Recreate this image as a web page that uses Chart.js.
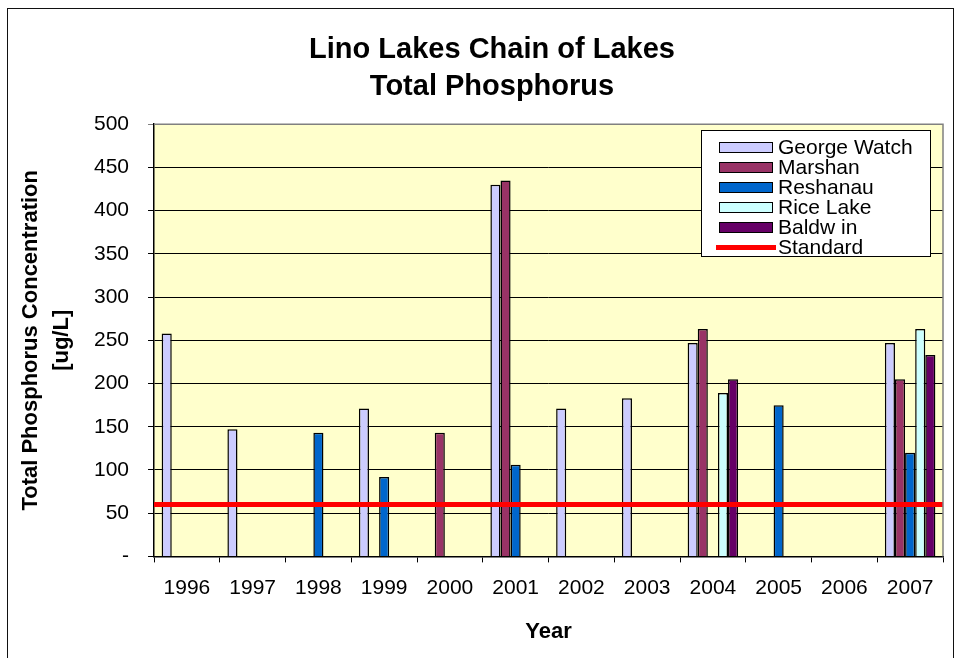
<!DOCTYPE html>
<html lang="en">

<head>
    <meta charset="UTF-8">
    <title>Lino Lakes Chain of Lakes - Total Phosphorus</title>
    <style>
        body {
            margin: 0;
            background-color: #fff;
            font-family: "Liberation Sans", Arial, sans-serif;
        }

        .wrap {
            position: relative;
            width: 960px;
            height: 658px;
            overflow: hidden;
        }

        .frame {
            position: absolute;
            left: 7px;
            top: 8px;
            width: 947px;
            height: 700px;
            border: 1.5px solid #111;
            box-sizing: border-box;
        }

        canvas {
            position: absolute;
            left: 0;
            top: 0;
        }

        #legend {
            position: absolute;
            left: 701px;
            top: 130px;
            width: 230px;
            height: 127px;
            box-sizing: border-box;
            border: 1px solid #000;
            background-color: #fff;
            padding: 6px 0 0 17px;
        }

        .item {
            height: 20px;
            line-height: 20px;
            font-size: 21px;
            color: #000;
            display: flex;
            align-items: center;
            white-space: nowrap;
        }

        .swatch {
            width: 54px;
            height: 11px;
            box-sizing: border-box;
            border: 1.5px solid #000;
            margin-right: 5px;
        }

        .swatch.line {
            width: 60px;
            height: 5px;
            border: none;
            margin-left: -3px;
            margin-right: 2px;
        }
    </style>
</head>

<body>
    <div class="wrap">
        <div class="frame"></div>
        <canvas id="tpChart" width="960" height="658"></canvas>
        <div id="legend"></div>
    </div>

    <script src="https://cdn.jsdelivr.net/npm/chart.js"></script>
    <script>
        // values (ug/L)
        const years = ['1996', '1997', '1998', '1999', '2000', '2001', '2002', '2003', '2004', '2005', '2006', '2007'];
        const georgeWatch = [258, 147, null, 171, null, 430, 171, 183, 247, null, null, 247];
        const marshan = [null, null, null, null, 143, 435, null, null, 263, null, null, 205];
        const reshanau = [null, null, 143, 92, null, 106, null, null, null, 175, null, 120];
        const riceLake = [null, null, null, null, null, null, null, null, 189, null, null, 263];
        const baldwin = [null, null, null, null, null, null, null, null, 205, null, null, 233];
        const standardLevel = 60;
        const yTicks = [0, 50, 100, 150, 200, 250, 300, 350, 400, 450, 500];

        const seriesNames = ['George Watch', 'Marshan', 'Reshanau', 'Rice Lake', 'Baldw in'];
        const seriesColors = ['#CCCCFF', '#993366', '#0066CC', '#CCFFFF', '#660066'];
        const seriesValues = [georgeWatch, marshan, reshanau, riceLake, baldwin];

        const FONT = '"Liberation Sans", Arial, sans-serif';

        // the x axis is numeric (years) so the standard line can run edge to edge
        const yearNums = years.map(Number);
        const xMin = yearNums[0] - 0.5;
        const xMax = yearNums[yearNums.length - 1] + 0.5;

        // yellow plot background with grey top/right border
        const plotArea = {
            id: 'plotArea',
            beforeDraw(chart) {
                const a = chart.chartArea;
                const c = chart.ctx;
                c.save();
                c.fillStyle = '#FFFFCC';
                c.fillRect(a.left, a.top, a.right - a.left, a.bottom - a.top);
                c.restore();
            },
            afterDatasetsDraw(chart) {
                const a = chart.chartArea;
                const c = chart.ctx;
                c.save();
                c.strokeStyle = '#808080';
                c.lineWidth = 1.5;
                c.beginPath();
                c.moveTo(a.left, a.top);
                c.lineTo(a.right, a.top);
                c.lineTo(a.right, a.bottom);
                c.stroke();
                c.restore();
            }
        };

        const datasets = seriesNames.map((name, i) => ({
            label: name,
            data: seriesValues[i],
            backgroundColor: seriesColors[i],
            borderColor: '#000',
            borderWidth: 1.5,
            categoryPercentage: 0.768,
            barPercentage: 1,
            order: 1
        }));

        datasets.push({
            type: 'line',
            label: 'Standard',
            data: [{ x: xMin, y: standardLevel }, { x: xMax, y: standardLevel }],
            borderColor: '#FF0000',
            borderWidth: 5,
            pointRadius: 0,
            fill: false,
            order: 0
        });

        new Chart(document.getElementById('tpChart'), {
            type: 'bar',
            data: { labels: years, datasets: datasets },
            plugins: [plotArea],
            options: {
                responsive: false,
                animation: false,
                devicePixelRatio: 1,
                layout: { padding: { left: 41, right: 17, top: 0, bottom: 0 } },
                plugins: {
                    legend: { display: false },
                    tooltip: { enabled: false },
                    title: {
                        display: true,
                        text: ['Lino Lakes Chain of Lakes', 'Total Phosphorus'],
                        color: '#000',
                        font: { family: FONT, size: 29, weight: 'bold', lineHeight: 1.28 },
                        padding: { top: 31, bottom: 19 }
                    }
                },
                scales: {
                    x: {
                        type: 'linear',
                        min: xMin,
                        max: xMax,
                        offset: false,
                        afterBuildTicks(scale) {
                            scale.ticks = yearNums.map(v => ({ value: v }));
                        },
                        grid: { offset: true, drawOnChartArea: false, drawTicks: true, tickLength: 6, color: '#000', lineWidth: 1 },
                        border: { color: '#000', width: 1.5 },
                        ticks: {
                            color: '#000',
                            font: { family: FONT, size: 21 },
                            padding: 13,
                            maxRotation: 0,
                            autoSkip: false,
                            callback: v => String(v)
                        },
                        title: {
                            display: true,
                            text: 'Year',
                            color: '#000',
                            font: { family: FONT, size: 22, weight: 'bold' },
                            padding: { top: 5, bottom: 13 }
                        }
                    },
                    y: {
                        min: 0,
                        max: 500,
                        afterBuildTicks(scale) {
                            scale.ticks = yTicks.map(v => ({ value: v }));
                        },
                        grid: {
                            color: ctx => (ctx.tick && ctx.tick.value === 500 ? '#808080' : '#000'),
                            lineWidth: 1,
                            tickLength: 6,
                            drawTicks: true
                        },
                        border: { color: '#000', width: 1.5 },
                        ticks: {
                            color: '#000',
                            font: { family: FONT, size: 21 },
                            padding: 19,
                            callback: v => (v === 0 ? '-' : v)
                        },
                        title: {
                            display: true,
                            text: ['Total Phosphorus Concentration', '[ug/L]'],
                            color: '#000',
                            font: { family: FONT, size: 22, weight: 'bold', lineHeight: 1.386 },
                            padding: { top: -25, bottom: -2 }
                        }
                    }
                }
            }
        });

        // legend box drawn as html from the same series lists
        const legend = document.getElementById('legend');
        seriesNames.forEach((name, i) => {
            const row = document.createElement('div');
            row.className = 'item';
            const sw = document.createElement('span');
            sw.className = 'swatch';
            sw.style.backgroundColor = seriesColors[i];
            row.appendChild(sw);
            row.appendChild(document.createTextNode(name));
            legend.appendChild(row);
        });
        const stdRow = document.createElement('div');
        stdRow.className = 'item';
        const stdSw = document.createElement('span');
        stdSw.className = 'swatch line';
        stdSw.style.backgroundColor = '#FF0000';
        stdRow.appendChild(stdSw);
        stdRow.appendChild(document.createTextNode('Standard'));
        legend.appendChild(stdRow);
    </script>
</body>

</html>
